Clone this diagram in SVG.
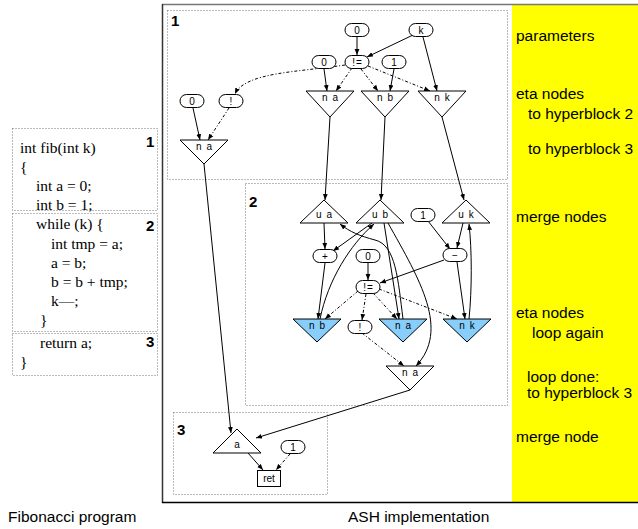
<svg xmlns="http://www.w3.org/2000/svg" width="638" height="529" viewBox="0 0 638 529">
<defs>
<style>
.frame{fill:none;stroke:#777;stroke-width:1;stroke-dasharray:1,2}
.code{font-family:"Liberation Serif",serif;font-size:15.5px;fill:#000}
.num{font-family:"Liberation Sans",Arial,sans-serif;font-size:15px;font-weight:bold;fill:#000}
.lbl{font-family:"Liberation Sans",Arial,sans-serif;font-size:10px;fill:#000;text-anchor:middle;letter-spacing:1px}
.note{font-family:"Liberation Sans",Arial,sans-serif;font-size:15.5px;fill:#000}
.ov{fill:#fff;stroke:#000;stroke-width:1}
.tri{fill:#fff;stroke:#000;stroke-width:1}
.blue{fill:#87cefa;stroke:#000;stroke-width:1}
.e{fill:none;stroke:#000;stroke-width:1;marker-end:url(#ah)}
.d{fill:none;stroke:#000;stroke-width:1;stroke-dasharray:3,2,1,2;marker-end:url(#ah)}
</style>
<marker id="ah" viewBox="0 0 10 10" refX="10" refY="5" markerWidth="6" markerHeight="6" orient="auto" markerUnits="userSpaceOnUse">
<path d="M0,1 L10,5 L0,9 z" fill="#000"/>
</marker>
</defs>
<rect width="638" height="529" fill="#fff"/>

<!-- left code -->
<g id="code">
<rect class="frame" x="12.5" y="128.5" width="145" height="82"/>
<rect class="frame" x="12.5" y="213.5" width="145" height="118"/>
<rect class="frame" x="12.5" y="333.5" width="145" height="42"/>
<text class="num" x="146" y="147">1</text>
<text class="num" x="146" y="231">2</text>
<text class="num" x="146" y="347">3</text>
<text class="code" x="20" y="153">int fib(int k)</text>
<text class="code" x="20" y="172">{</text>
<text class="code" x="36" y="191">int a = 0;</text>
<text class="code" x="36" y="210">int b = 1;</text>
<text class="code" x="36" y="229">while (k) {</text>
<text class="code" x="51" y="249">int tmp = a;</text>
<text class="code" x="51" y="268">a = b;</text>
<text class="code" x="51" y="287">b = b + tmp;</text>
<text class="code" x="51" y="306">k—;</text>
<text class="code" x="40" y="325">}</text>
<text class="code" x="40" y="348">return a;</text>
<text class="code" x="20" y="367">}</text>
</g>

<!-- outer frame and panel -->
<g id="panel">
<rect x="512" y="5" width="126" height="497" fill="#ffff00"/>
<line x1="162" y1="4.5" x2="638" y2="4.5" stroke="#777" stroke-width="1.5"/>
<line x1="162.5" y1="4" x2="162.5" y2="503" stroke="#333" stroke-width="1.5"/>
<line x1="162" y1="502.5" x2="638" y2="502.5" stroke="#000" stroke-width="1.5"/>
<text class="note" x="516" y="41">parameters</text>
<text class="note" x="516" y="99">eta nodes</text>
<text class="note" x="528" y="119">to hyperblock 2</text>
<text class="note" x="528" y="154">to hyperblock 3</text>
<text class="note" x="516" y="222">merge nodes</text>
<text class="note" x="516" y="318">eta nodes</text>
<text class="note" x="532" y="338">loop again</text>
<text class="note" x="527" y="382">loop done:</text>
<text class="note" x="527" y="398">to hyperblock 3</text>
<text class="note" x="516" y="442">merge node</text>
</g>

<!-- hyperblock frames -->
<g id="hb1"><rect class="frame" x="167.5" y="10.5" width="340" height="169"/><text class="num" x="171" y="26">1</text></g>
<g id="hb2"><rect class="frame" x="245.5" y="183.5" width="262" height="222"/><text class="num" x="249" y="207">2</text></g>
<g id="hb3"><rect class="frame" x="173.5" y="412.5" width="154" height="82"/><text class="num" x="177" y="435">3</text></g>

<!-- connectors -->
<g id="edges">
<path class="e" d="M357,37 L357,55"/>
<path class="e" d="M413,35 L367,57"/>
<path class="e" d="M423,37 L437,91"/>
<path class="e" d="M324,69 L327,91"/>
<path class="d" d="M352,68 L336,91"/>
<path class="d" d="M361,69 L378,91"/>
<path class="e" d="M394,69 L390,91"/>
<path class="d" d="M368,66 L430,91"/>
<path class="d" d="M345,65 C300,72 245,72 235,94"/>
<path class="e" d="M193,108 L200,140"/>
<path class="d" d="M229,108 L208,140"/>
<path class="e" d="M330,117 L325,200"/>
<path class="e" d="M385,117 L381,200"/>
<path class="e" d="M442,117 L464,200"/>
<path class="e" d="M204,164 L231,433"/>

<path class="e" d="M324,223 L325,249"/>
<path class="e" d="M372,223 L333,251"/>
<path class="e" d="M320,319 C328,280 350,245 374,224"/>
<path class="e" d="M325,263 L318,319"/>
<path class="d" d="M358,291 L325,319"/>
<path class="e" d="M368,263 L368,280"/>
<path class="d" d="M366,294 L362,320"/>
<path class="d" d="M373,293 L397,319"/>
<path class="d" d="M379,289 L457,319"/>
<path class="e" d="M444,260 L380,283"/>
<path class="e" d="M428,221 L450,249"/>
<path class="e" d="M463,223 L457,248"/>
<path class="e" d="M457,262 L465,319"/>
<path class="e" d="M469,319 C472,290 472,250 469,224"/>
<path class="e" d="M384,223 L399,319"/>
<path class="e" d="M403,319 C398,280 396,245 375,240 C360,236 350,232 340,224"/>
<path class="e" d="M388,223 C420,280 450,330 416,366"/>
<path class="d" d="M362,333 L404,366"/>
<path class="e" d="M410,390 L256,438"/>
<path class="e" d="M248,453 L263,470"/>
<path class="d" d="M290,454 L276,470"/>
</g>

<!-- HB1 nodes -->
<g id="n_0top"><rect class="ov" x="345" y="23.5" width="24" height="13" rx="6.5"/><text class="lbl" x="357.5" y="33.5">0</text></g>
<g id="n_k"><rect class="ov" x="409" y="23.5" width="24" height="13" rx="6.5"/><text class="lbl" x="421.5" y="33.5">k</text></g>
<g id="n_neq1"><rect class="ov" x="345" y="55.5" width="24" height="13" rx="6.5"/><text class="lbl" x="357.5" y="65.5">!=</text></g>
<g id="n_0b"><rect class="ov" x="312" y="55.5" width="24" height="13" rx="6.5"/><text class="lbl" x="324.5" y="65.5">0</text></g>
<g id="n_1a"><rect class="ov" x="382" y="55.5" width="24" height="13" rx="6.5"/><text class="lbl" x="394.5" y="65.5">1</text></g>
<g id="n_na1"><polygon class="tri" points="306,91 354,91 330,117"/><text class="lbl" x="330.5" y="101">n a</text></g>
<g id="n_nb1"><polygon class="tri" points="361,91 409,91 385,117"/><text class="lbl" x="385.5" y="101">n b</text></g>
<g id="n_nk1"><polygon class="tri" points="418,91 466,91 442,117"/><text class="lbl" x="442.5" y="101">n k</text></g>
<g id="n_0c"><rect class="ov" x="180" y="94.5" width="24" height="13" rx="6.5"/><text class="lbl" x="192.5" y="104.5">0</text></g>
<g id="n_not1"><rect class="ov" x="219" y="94.5" width="24" height="13" rx="6.5"/><text class="lbl" x="231.5" y="104.5">!</text></g>
<g id="n_na0"><polygon class="tri" points="180,140 228,140 204,164"/><text class="lbl" x="204.5" y="150">n a</text></g>

<!-- HB2 nodes -->
<g id="n_ua"><polygon class="tri" points="324,200 348,223 300,223"/><text class="lbl" x="324.5" y="218">u a</text></g>
<g id="n_ub"><polygon class="tri" points="380,200 404,223 356,223"/><text class="lbl" x="380.5" y="218">u b</text></g>
<g id="n_uk"><polygon class="tri" points="466,200 490,223 442,223"/><text class="lbl" x="466.5" y="218">u k</text></g>
<g id="n_1b"><rect class="ov" x="411" y="208.5" width="24" height="13" rx="6.5"/><text class="lbl" x="423.5" y="218.5">1</text></g>
<g id="n_minus"><rect class="ov" x="443" y="248.5" width="24" height="13" rx="6.5"/><text class="lbl" x="455.5" y="258.5">−</text></g>
<g id="n_plus"><rect class="ov" x="313" y="249.5" width="24" height="13" rx="6.5"/><text class="lbl" x="325.5" y="259.5">+</text></g>
<g id="n_0d"><rect class="ov" x="356" y="249.5" width="24" height="13" rx="6.5"/><text class="lbl" x="368.5" y="259.5">0</text></g>
<g id="n_neq2"><rect class="ov" x="356" y="280.5" width="24" height="13" rx="6.5"/><text class="lbl" x="368.5" y="290.5">!=</text></g>
<g id="n_not2"><rect class="ov" x="348" y="320.5" width="24" height="13" rx="6.5"/><text class="lbl" x="360.5" y="330.5">!</text></g>
<g id="n_nb2"><polygon class="blue" points="293,319 341,319 317,342"/><text class="lbl" x="317.5" y="329">n b</text></g>
<g id="n_na2"><polygon class="blue" points="379,319 427,319 403,342"/><text class="lbl" x="403.5" y="329">n a</text></g>
<g id="n_nk2"><polygon class="blue" points="443,319 491,319 467,342"/><text class="lbl" x="467.5" y="329">n k</text></g>
<g id="n_na3"><polygon class="tri" points="386,366 434,366 410,390"/><text class="lbl" x="410.5" y="376">n a</text></g>

<!-- HB3 nodes -->
<g id="n_a"><polygon class="tri" points="237,429 261,453 213,453"/><text class="lbl" x="237.5" y="448">a</text></g>
<g id="n_1c"><rect class="ov" x="281" y="440.5" width="24" height="13" rx="6.5"/><text class="lbl" x="293.5" y="450.5">1</text></g>
<g id="n_ret"><rect class="ov" x="257.5" y="470.5" width="23" height="16"/><text class="lbl" x="269" y="482" style="letter-spacing:0">ret</text></g>

<text class="note" x="8" y="522">Fibonacci program</text>
<text class="note" x="348" y="522">ASH implementation</text>
</svg>
